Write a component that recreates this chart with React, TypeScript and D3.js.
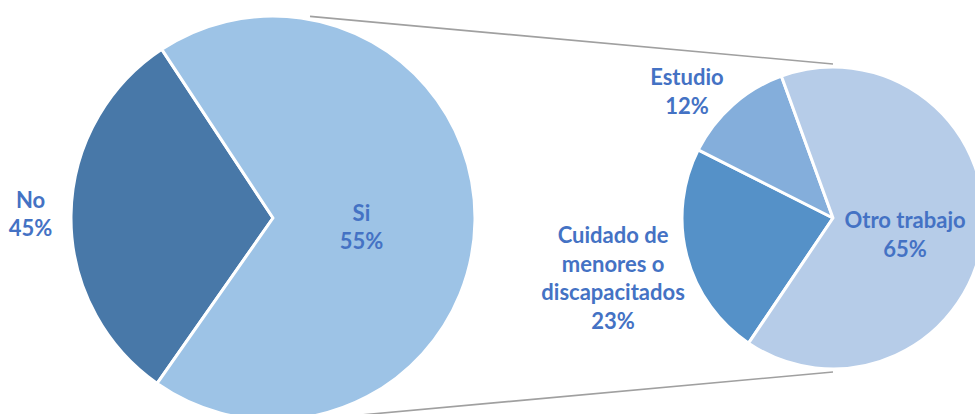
import React from "react";
import * as d3 from "d3";

// ---- data ----
const mainCategories = ["No", "Si"];
const mainLabels = ["45%", "55%"]; // labels as printed on the chart
const mainSliceShares = [31, 69]; // angular share of each slice as drawn
const subCategories = ["Cuidado de menores o discapacitados", "Estudio", "Otro trabajo"];
const subValues = [23, 12, 65];
const subLabelLines = [["Cuidado de", "menores o", "discapacitados"], ["Estudio"], ["Otro trabajo"]];

// ---- styling / layout ----
const W = 975;
const H = 414;
const mainColors = ["#4878A8", "#9DC3E6"];
const subColors = ["#5591C8", "#84AEDB", "#B6CCE8"];
const textColor = "#4472C4";
const FONT = "Lato, 'Noto Sans', sans-serif";
const FS = 22;
const LH = 28.5;
// label placement: [angle offset (deg), radius factor]
const mainLabelPos: [number, number][] = [[0.2, 1.2], [5, 0.44]];
const subLabelPos: [number, number][] = [[-0.7, 1.51], [-7.5, 1.28], [6, 0.49]];

const deg = Math.PI / 180;

export default function App() {
  const c1 = { x: 273, y: 218, r: 202 };
  const c2 = { x: 833, y: 218, r: 151 };

  const mainPie = d3
    .pie<number>()
    .sort(null)
    .value((d) => d)
    .startAngle(215 * deg)
    .endAngle(215 * deg + 2 * Math.PI);
  const subPie = d3
    .pie<number>()
    .sort(null)
    .value((d) => d)
    .startAngle(214 * deg)
    .endAngle(214 * deg + 2 * Math.PI);

  const mainArcs = mainPie(mainSliceShares);
  const subArcs = subPie(subValues);
  const arc1 = d3.arc<d3.PieArcDatum<number>>().innerRadius(0).outerRadius(c1.r);
  const arc2 = d3.arc<d3.PieArcDatum<number>>().innerRadius(0).outerRadius(c2.r);

  const polar = (c: { x: number; y: number }, a: number, r: number) => [
    c.x + r * Math.sin(a),
    c.y - r * Math.cos(a),
  ];

  // connector lines
  const la = 10.4 * deg;
  const [ux, uy] = polar(c1, la, c1.r + 3);
  const [dx, dy] = polar(c1, Math.PI - la, c1.r + 3);
  const line = d3.line();
  const upper = line([[ux, uy], [c2.x, c2.y - c2.r - 3]]) as string;
  const lower = line([[dx, dy], [c2.x, c2.y + c2.r + 3]]) as string;

  const renderLabel = (
    key: string,
    c: { x: number; y: number; r: number },
    a: d3.PieArcDatum<number>,
    pos: [number, number],
    lines: string[]
  ) => {
    const mid = (a.startAngle + a.endAngle) / 2 + pos[0] * deg;
    const [x, y] = polar(c, mid, c.r * pos[1]);
    const n = lines.length;
    return (
      <text
        key={key}
        x={x}
        textAnchor="middle"
        fontFamily={FONT}
        fontWeight="bold"
        fontSize={FS}
        fill={textColor}
      >
        {lines.map((l, i) => (
          <tspan key={i} x={x} y={y + (i - (n - 1) / 2) * LH + 8}>
            {l}
          </tspan>
        ))}
      </text>
    );
  };

  return (
    <svg
      width={W}
      height={H}
      style={{ position: "absolute", left: 0, top: 0, background: "#fff" }}
    >
      <path d={upper} stroke="#A0A0A0" strokeWidth={1.6} fill="none" />
      <path d={lower} stroke="#A0A0A0" strokeWidth={1.6} fill="none" />
      <g transform={`translate(${c1.x},${c1.y})`}>
        {mainArcs.map((a, i) => (
          <path key={i} d={arc1(a) as string} fill={mainColors[i]} stroke="#fff" strokeWidth={3} strokeLinejoin="round" />
        ))}
      </g>
      <g transform={`translate(${c2.x},${c2.y})`}>
        {subArcs.map((a, i) => (
          <path key={i} d={arc2(a) as string} fill={subColors[i]} stroke="#fff" strokeWidth={3} strokeLinejoin="round" />
        ))}
      </g>
      {mainArcs.map((a, i) =>
        renderLabel("m" + i, c1, a, mainLabelPos[i], [mainCategories[i], mainLabels[i]])
      )}
      {subArcs.map((a, i) =>
        renderLabel("s" + i, c2, a, subLabelPos[i], [...subLabelLines[i], `${subValues[i]}%`])
      )}
    </svg>
  );
}
